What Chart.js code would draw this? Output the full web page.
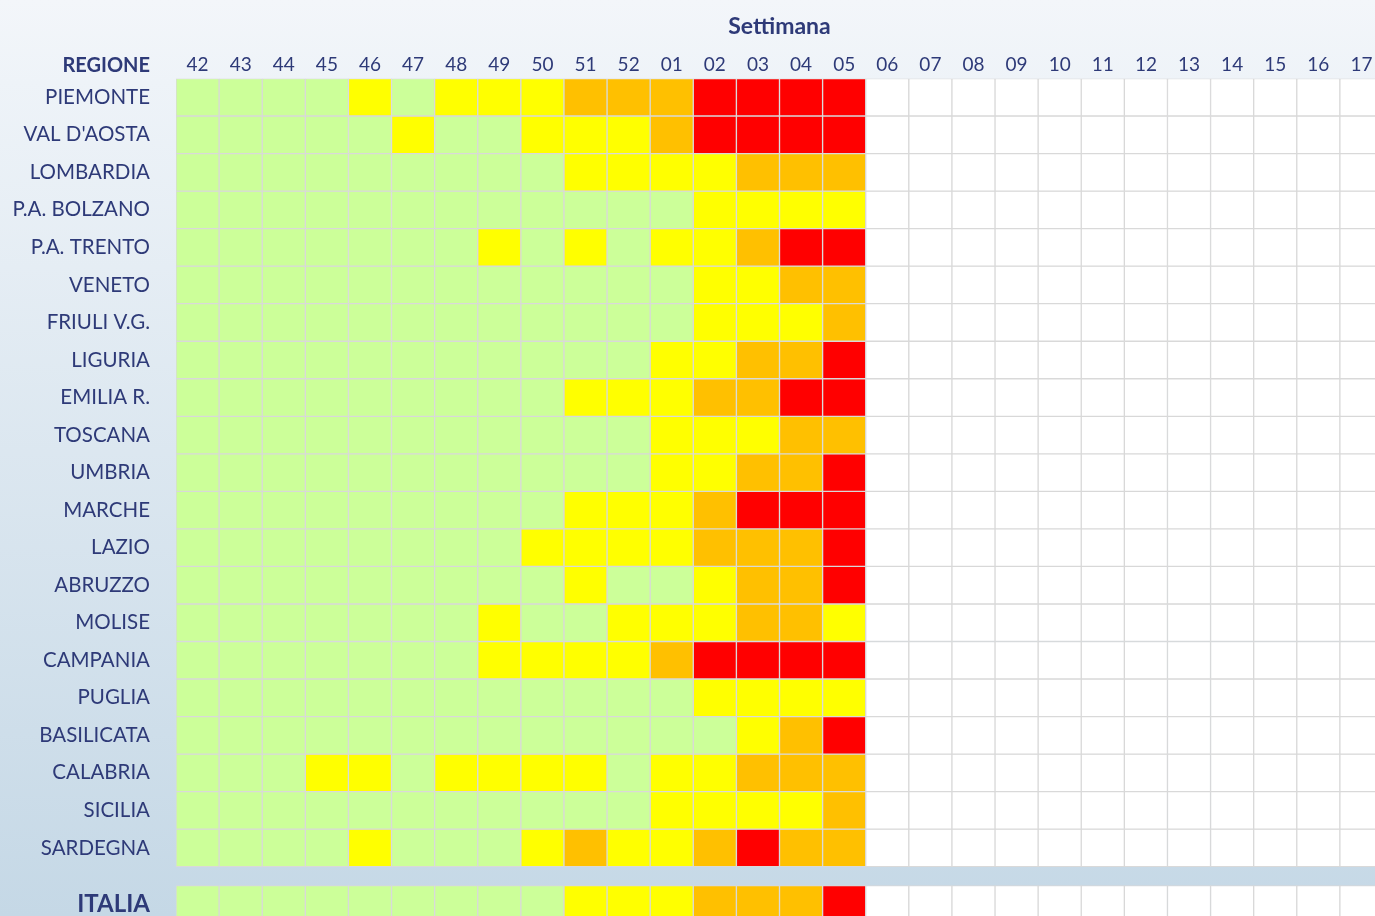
<!DOCTYPE html>
<html>
<head>
<meta charset="utf-8">
<script src="https://cdn.jsdelivr.net/npm/chart.js@4.4.1/dist/chart.umd.min.js"></script>
<style>
  html, body { margin: 0; padding: 0; overflow: hidden; width: 1375px; height: 916px; }
  body { background: linear-gradient(to bottom, #f3f6fa 0%, #eef3f8 9%, #c5d8e6 100%); }
  #c { position: absolute; left: 0; top: 0; }
</style>
</head>
<body>
<canvas id="c" width="1383" height="923"></canvas>
<script>
// ---- data ----
const weeks = ['42','43','44','45','46','47','48','49','50','51','52',
               '01','02','03','04','05','06','07','08','09','10','11','12','13','14','15','16','17'];

const regions = ['PIEMONTE', "VAL D'AOSTA", 'LOMBARDIA', 'P.A. BOLZANO', 'P.A. TRENTO', 'VENETO',
                 'FRIULI V.G.', 'LIGURIA', 'EMILIA R.', 'TOSCANA', 'UMBRIA', 'MARCHE', 'LAZIO',
                 'ABRUZZO', 'MOLISE', 'CAMPANIA', 'PUGLIA', 'BASILICATA', 'CALABRIA', 'SICILIA',
                 'SARDEGNA'];
const totalLabel = 'ITALIA';

// intensity level per week (42..05): 0 = low, 1, 2, 3 = highest ; weeks 06..17 not yet available
const regionLevels = [
  [0,0,0,0,1,0,1,1,1,2,2,2,3,3,3,3], // PIEMONTE
  [0,0,0,0,0,1,0,0,1,1,1,2,3,3,3,3], // VAL D'AOSTA
  [0,0,0,0,0,0,0,0,0,1,1,1,1,2,2,2], // LOMBARDIA
  [0,0,0,0,0,0,0,0,0,0,0,0,1,1,1,1], // P.A. BOLZANO
  [0,0,0,0,0,0,0,1,0,1,0,1,1,2,3,3], // P.A. TRENTO
  [0,0,0,0,0,0,0,0,0,0,0,0,1,1,2,2], // VENETO
  [0,0,0,0,0,0,0,0,0,0,0,0,1,1,1,2], // FRIULI V.G.
  [0,0,0,0,0,0,0,0,0,0,0,1,1,2,2,3], // LIGURIA
  [0,0,0,0,0,0,0,0,0,1,1,1,2,2,3,3], // EMILIA R.
  [0,0,0,0,0,0,0,0,0,0,0,1,1,1,2,2], // TOSCANA
  [0,0,0,0,0,0,0,0,0,0,0,1,1,2,2,3], // UMBRIA
  [0,0,0,0,0,0,0,0,0,1,1,1,2,3,3,3], // MARCHE
  [0,0,0,0,0,0,0,0,1,1,1,1,2,2,2,3], // LAZIO
  [0,0,0,0,0,0,0,0,0,1,0,0,1,2,2,3], // ABRUZZO
  [0,0,0,0,0,0,0,1,0,0,1,1,1,2,2,1], // MOLISE
  [0,0,0,0,0,0,0,1,1,1,1,2,3,3,3,3], // CAMPANIA
  [0,0,0,0,0,0,0,0,0,0,0,0,1,1,1,1], // PUGLIA
  [0,0,0,0,0,0,0,0,0,0,0,0,0,1,2,3], // BASILICATA
  [0,0,0,1,1,0,1,1,1,1,0,1,1,2,2,2], // CALABRIA
  [0,0,0,0,0,0,0,0,0,0,0,1,1,1,1,2], // SICILIA
  [0,0,0,0,1,0,0,0,1,2,1,1,2,3,2,2]  // SARDEGNA
];
const italiaLevels = [0,0,0,0,0,0,0,0,0,1,1,1,2,2,2,3];

const levelColors = ['#ccff99', '#ffff00', '#ffc000', '#ff0000'];
const emptyColor = '#ffffff';
const gridColor = '#d9d9d9';
const textColor = '#2e3a78';
const fontFamily = 'Lato, "Open Sans", sans-serif';

// ---- build ----
const rowLabels = regions.concat([totalLabel]);
const rowLevels = regionLevels.concat([italiaLevels]);
// the total row is separated from the regions by half a row
const rowStart = (r) => (r < regions.length ? r : r + 0.5);

const datasets = rowLevels.map((lv, r) => ({
  label: rowLabels[r],
  data: weeks.map(() => [rowStart(r), rowStart(r) + 1]),
  backgroundColor: weeks.map((w, i) => (lv[i] === undefined ? emptyColor : levelColors[lv[i]])),
  borderColor: gridColor,
  borderWidth: 1,
  borderSkipped: false,
  grouped: false,
  barPercentage: 1,
  categoryPercentage: 1
}));

const headerPlugin = {
  id: 'regioneHeader',
  afterDraw(chart) {
    const { ctx, scales: { y } } = chart;
    ctx.save();
    ctx.font = 'bold 20px ' + fontFamily;
    ctx.fillStyle = textColor;
    ctx.textAlign = 'right';
    ctx.textBaseline = 'middle';
    ctx.fillText('REGIONE', y.right - 26, 66);
    ctx.restore();
  }
};

new Chart(document.getElementById('c'), {
  type: 'bar',
  data: { labels: weeks, datasets },
  plugins: [headerPlugin],
  options: {
    responsive: false,
    animation: false,
    layout: { padding: 0 },
    plugins: { legend: { display: false }, tooltip: { enabled: false }, title: { display: false } },
    scales: {
      x: {
        type: 'category',
        position: 'top',
        offset: true,
        grid: { display: false, drawTicks: false },
        border: { display: false },
        ticks: {
          color: textColor,
          font: { family: fontFamily, size: 19 },
          padding: 2,
          maxRotation: 0,
          autoSkip: false
        },
        title: {
          display: true,
          text: 'Settimana',
          color: textColor,
          font: { family: fontFamily, size: 23, weight: 'bold' },
          padding: { top: 13, bottom: 0 }
        },
        afterFit(s) { s.height = 78.5; s.paddingLeft = 0; s.paddingRight = 0; }
      },
      y: {
        type: 'linear',
        reverse: true,
        min: 0,
        max: rowLabels.length + 0.5,
        grid: { display: false, drawTicks: false },
        border: { display: false },
        afterBuildTicks(s) {
          s.ticks = rowLabels.map((_, r) => ({ value: rowStart(r) + 0.5 }));
        },
        ticks: {
          color: textColor,
          padding: 26,
          autoSkip: false,
          callback: (v, i) => rowLabels[i],
          font: (ctx) => (ctx.index === rowLabels.length - 1
            ? { family: fontFamily, size: 24, weight: 'bold' }
            : { family: fontFamily, size: 20.5 })
        },
        afterFit(s) { s.width = 176; s.paddingTop = 0; s.paddingBottom = 0; }
      }
    }
  }
});
</script>
</body>
</html>
